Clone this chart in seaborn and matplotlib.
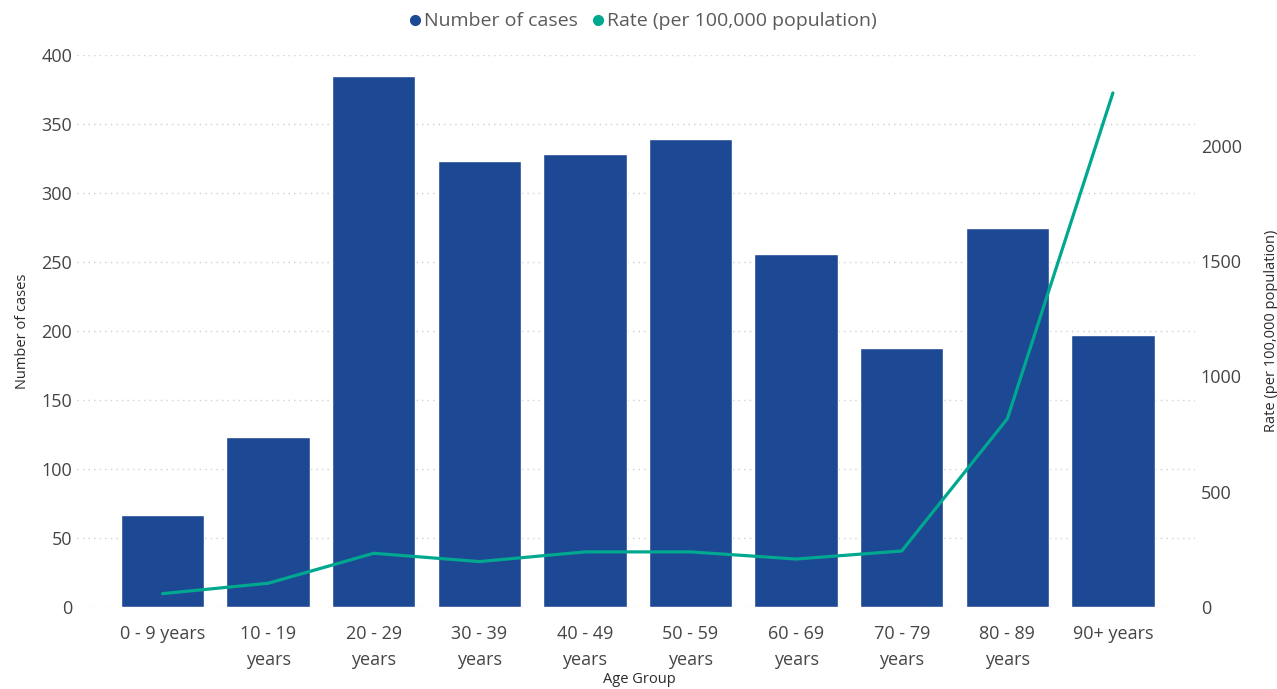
import matplotlib
matplotlib.use("Agg")
import matplotlib.pyplot as plt
import seaborn as sns
import pandas as pd
from matplotlib.lines import Line2D

age_groups = ["0 - 9 years", "10 - 19\nyears", "20 - 29\nyears", "30 - 39\nyears",
              "40 - 49\nyears", "50 - 59\nyears", "60 - 69\nyears", "70 - 79\nyears",
              "80 - 89\nyears", "90+ years"]
cases = [67, 123, 385, 323, 328, 339, 256, 188, 275, 197]
rate = [58, 103, 233, 197, 239, 239, 208, 243, 816, 2229]

left_ticks = [0, 50, 100, 150, 200, 250, 300, 350, 400]
right_ticks = [0, 500, 1000, 1500, 2000]

bar_color = "#1D4893"
line_color = "#00A88F"
tick_color = "#454545"
title_color = "#2A2A2A"

sns.set_theme(style="white")
plt.rcParams["font.family"] = ["Open Sans", "DejaVu Sans"]

df = pd.DataFrame({"age": age_groups, "cases": cases, "rate": rate})

fig = plt.figure(figsize=(12.77, 6.89), dpi=100)
ax = fig.add_axes([0.0603, 0.119, 0.936 - 0.0603, 0.920 - 0.119])

sns.barplot(data=df, x="age", y="cases", color=bar_color, width=0.79,
            saturation=1, ax=ax, zorder=2)
ax.set_ylim(0, 400)
ax.set_yticks(left_ticks)
ax.set_xlim(-0.81, 9.78)
ax.grid(axis="y", linestyle=(0, (1, 3)), color="#D0D0D0", linewidth=1, zorder=0)
ax.set_axisbelow(True)
for s in ax.spines.values():
    s.set_visible(False)
ax.tick_params(axis="both", length=0, labelsize=13, labelcolor=tick_color)
ax.tick_params(axis="x", pad=13)
ax.set_ylabel("Number of cases", fontsize=10.5, color=title_color, labelpad=8)
ax.set_xlabel("Age Group", fontsize=10.5, color=title_color, va="center")
ax.xaxis.set_label_coords(0.503, -0.131)
for lbl in ax.get_xticklabels():
    lbl.set_linespacing(1.55)

ax2 = ax.twinx()
sns.lineplot(data=df, x="age", y="rate", color=line_color, linewidth=2.3,
             ax=ax2, sort=False)
ax2.set_ylim(0, 2393)
ax2.set_yticks(right_ticks)
ax2.set_xlim(-0.81, 9.78)
for s in ax2.spines.values():
    s.set_visible(False)
ax2.tick_params(axis="y", length=0, labelsize=13, labelcolor=tick_color, pad=4)
ax2.set_ylabel("Rate (per 100,000 population)", fontsize=10.5, color=title_color, labelpad=16)
ax2.grid(False)

handles = [Line2D([], [], marker="o", linestyle="none", color=bar_color, markersize=7),
           Line2D([], [], marker="o", linestyle="none", color=line_color, markersize=7)]
fig.legend(handles, ["Number of cases", "Rate (per 100,000 population)"],
           loc="center", bbox_to_anchor=(0.502, 0.969), ncol=2, frameon=False,
           fontsize=14, handletextpad=0.0, columnspacing=0.5, labelcolor="#5A5A5A",
           handlelength=1.0)

fig.savefig("out.png", dpi=100)
